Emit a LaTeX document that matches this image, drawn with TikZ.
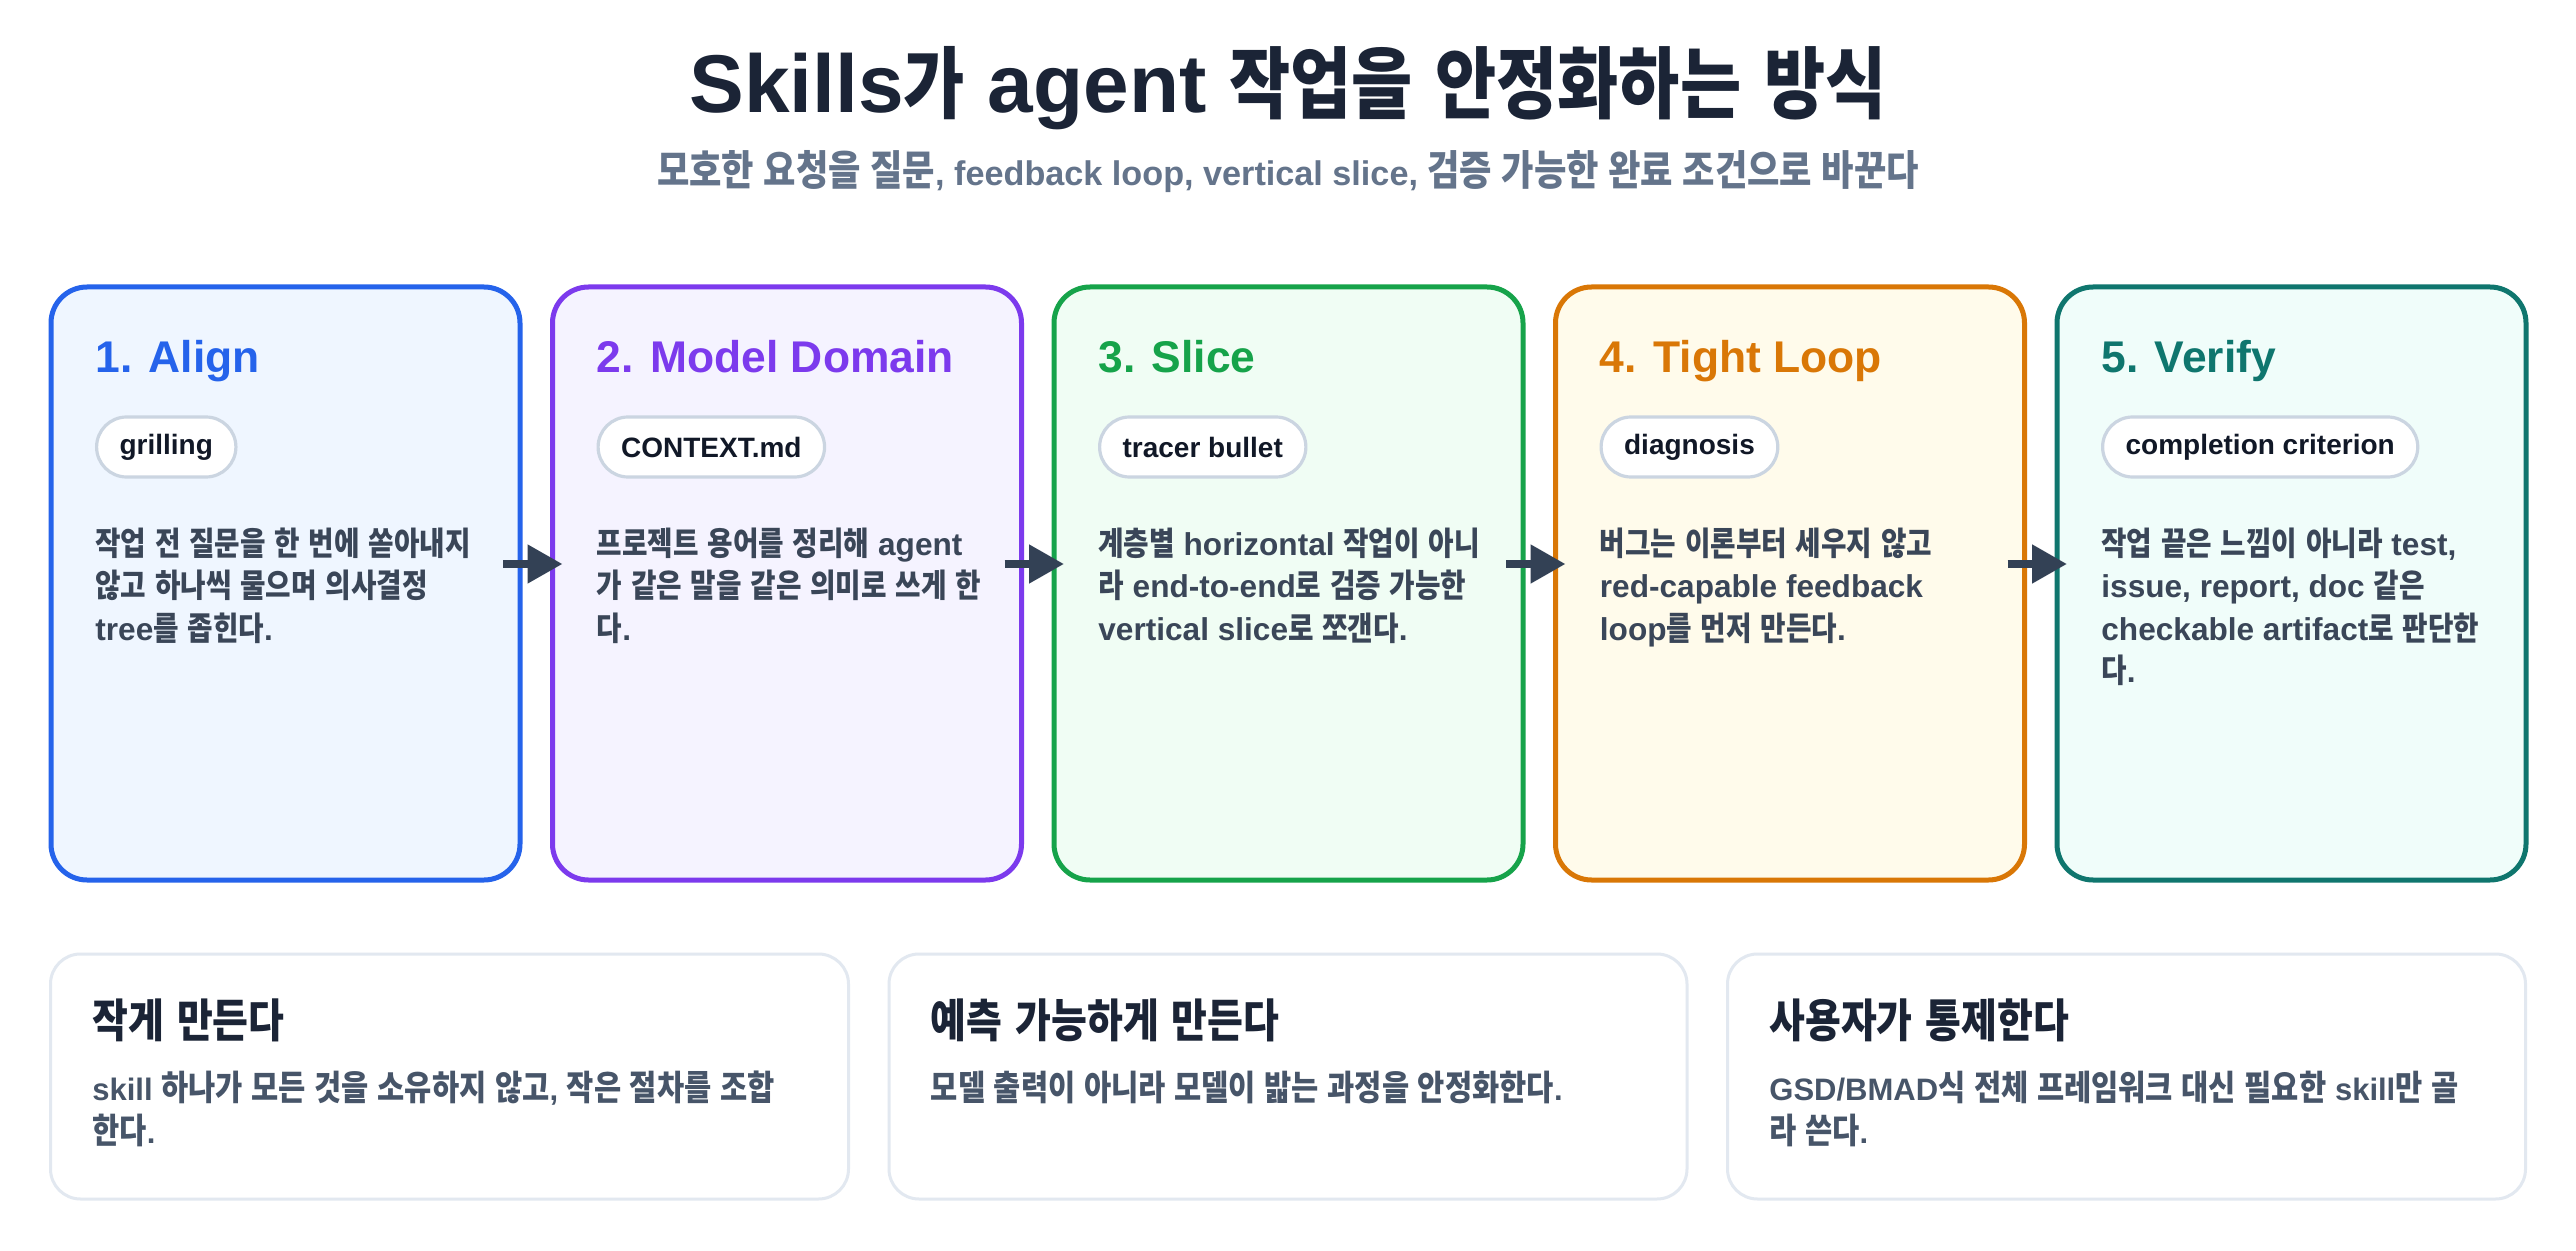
\documentclass[tikz,border=0pt]{standalone}
\usepackage{fontspec}
\usetikzlibrary{arrows.meta}
\setmainfont{Liberation Sans}
\newfontfamily\krfont{Noto Sans CJK KR}[FakeStretch=0.85]
\newcommand\krsz{16}
\XeTeXinterchartokenstate=1
\newXeTeXintercharclass\KRclass
\count255="AC00
\loop
  \XeTeXcharclass\count255=\KRclass
  \ifnum\count255<"D7A3 \advance\count255 by 1
\repeat
\XeTeXinterchartoks 0 \KRclass = {\begingroup\krfont\fontsize{\krsz}{\baselineskip}\selectfont}
\XeTeXinterchartoks 4095 \KRclass = {\begingroup\krfont\fontsize{\krsz}{\baselineskip}\selectfont}
\XeTeXinterchartoks \KRclass 0 = {\endgroup}
\XeTeXinterchartoks \KRclass 4095 = {\endgroup}

\definecolor{ttl}{HTML}{1B2436}
\definecolor{subc}{HTML}{64748B}
\definecolor{bodyc}{HTML}{3A4658}
\definecolor{botbody}{HTML}{475569}
\definecolor{pillb}{HTML}{CBD5E1}
\definecolor{pillt}{HTML}{111827}
\definecolor{arrowc}{HTML}{334155}
\definecolor{botb}{HTML}{E2E8F0}
\definecolor{blueb}{HTML}{2563EB}\definecolor{bluef}{HTML}{EFF6FF}
\definecolor{purpb}{HTML}{7C3AED}\definecolor{purpf}{HTML}{F5F3FF}
\definecolor{greenb}{HTML}{16A34A}\definecolor{greenf}{HTML}{F0FDF4}
\definecolor{orangeb}{HTML}{D97706}\definecolor{orangef}{HTML}{FFFBEB}
\definecolor{tealb}{HTML}{0F766E}\definecolor{tealf}{HTML}{F0FDFA}

\newcommand\cardtext[1]{\parbox[t]{260pt}{\raggedright #1}}
\newcommand\bottext[1]{\parbox[t]{390pt}{\raggedright #1}}

\tikzset{
  card/.style={line width=2.5pt, rounded corners=18pt, inner sep=0pt, outer sep=0pt,
    minimum width=234.5pt, minimum height=296.5pt, anchor=north west},
  ctitle/.style={anchor=base west, inner sep=0pt, font=\bfseries\fontsize{22.2}{26}\selectfont\def\krsz{22}},
  pill/.style={draw=pillb, fill=white, line width=1.6pt, rounded corners=15pt,
    minimum height=30pt, inner xsep=11.5pt, inner ysep=0pt, anchor=west,
    text=pillt, font=\bfseries\fontsize{14}{16}\selectfont\def\krsz{14}},
  cbody/.style={anchor=base west, inner sep=0pt, text=bodyc,
    font=\bfseries\fontsize{15.8}{21.25}\selectfont\def\krsz{16.3}},
  arr/.style={draw=arrowc, line width=4pt, -{Triangle[length=17.5pt,width=18.5pt]}},
  botcard/.style={draw=botb, fill=white, line width=1.5pt, rounded corners=15pt,
    inner sep=0pt, outer sep=0pt, minimum width=399pt, minimum height=122.5pt, anchor=north west},
  btitle/.style={anchor=base west, inner sep=0pt, text=ttl,
    font=\bfseries\fontsize{23.5}{28}\selectfont\def\krsz{22.9}},
  bbody/.style={anchor=base west, inner sep=0pt, text=botbody,
    font=\bfseries\fontsize{15.5}{21.5}\selectfont\def\krsz{17.4}},
}

\begin{document}
\begin{tikzpicture}[x=0.5pt,y=-0.5pt]
\fill[white] (0,0) rectangle (2576,1251);
\useasboundingbox (0,0) rectangle (2576,1251);

% header
\node[anchor=base, inner sep=0pt, text=ttl, font=\bfseries\fontsize{41}{48}\selectfont\def\krsz{39.1}]
  (title) at (1288,113) {Skills가 agent 작업을 안정화하는 방식};
\node[anchor=base, inner sep=0pt, text=subc, font=\bfseries\fontsize{17.1}{23}\selectfont\def\krsz{20.7}]
  (subtitle) at (1288,186) {모호한 요청을 질문, feedback loop, vertical slice, 검증 가능한 완료 조건으로 바꾼다};

% step cards
\node[card, draw=blueb, fill=bluef] (c1) at (51,287) {};
\node[card, draw=purpb, fill=purpf] (c2) at (552.5,287) {};
\node[card, draw=greenb, fill=greenf] (c3) at (1054,287) {};
\node[card, draw=orangeb, fill=orangef] (c4) at (1555.5,287) {};
\node[card, draw=tealb, fill=tealf] (c5) at (2057,287) {};

\node[ctitle, text=blueb] (t1) at (95,373) {1. Align};
\node[ctitle, text=purpb] (t2) at (596.5,373) {2. Model Domain};
\node[ctitle, text=greenb] (t3) at (1098,373) {3. Slice};
\node[ctitle, text=orangeb] (t4) at (1599.5,373) {4. Tight Loop};
\node[ctitle, text=tealb] (t5) at (2101,373) {5. Verify};

\node[pill] (p1) at (95,447) {grilling};
\node[pill] (p2) at (596.5,447) {CONTEXT.md};
\node[pill] (p3) at (1098,447) {tracer bullet};
\node[pill] (p4) at (1599.5,447) {diagnosis};
\node[pill] (p5) at (2101,447) {completion criterion};

\node[cbody] (b1) at (95,555) {\cardtext{작업 전 질문을 한 번에 쏟아내지\\않고 하나씩 물으며 의사결정\\tree를 좁힌다.}};
\node[cbody] (b2) at (596.5,555) {\cardtext{프로젝트 용어를 정리해 agent\\가 같은 말을 같은 의미로 쓰게 한\\다.}};
\node[cbody] (b3) at (1098,555) {\cardtext{계층별 horizontal 작업이 아니\\라 end-to-end로 검증 가능한\\vertical slice로 쪼갠다.}};
\node[cbody] (b4) at (1599.5,555) {\cardtext{버그는 이론부터 세우지 않고\\red-capable feedback\\loop를 먼저 만든다.}};
\node[cbody] (b5) at (2101,555) {\cardtext{작업 끝은 느낌이 아니라 test,\\issue, report, doc 같은\\checkable artifact로 판단한\\다.}};

% arrows
\draw[arr] ([xshift=-8.5pt,yshift=9.75pt]c1.east) -- ([xshift=5pt,yshift=9.75pt]c2.west);
\draw[arr] ([xshift=-8.5pt,yshift=9.75pt]c2.east) -- ([xshift=5pt,yshift=9.75pt]c3.west);
\draw[arr] ([xshift=-8.5pt,yshift=9.75pt]c3.east) -- ([xshift=5pt,yshift=9.75pt]c4.west);
\draw[arr] ([xshift=-8.5pt,yshift=9.75pt]c4.east) -- ([xshift=5pt,yshift=9.75pt]c5.west);

% bottom cards
\node[botcard] (d1) at (50.5,954) {};
\node[botcard] (d2) at (889,954) {};
\node[botcard] (d3) at (1727.5,954) {};

\node[btitle] (e1) at (92,1037) {작게 만든다};
\node[btitle] (e2) at (930.5,1037) {예측 가능하게 만든다};
\node[btitle] (e3) at (1769,1037) {사용자가 통제한다};

\node[bbody] (f1) at (92,1100) {\bottext{skill 하나가 모든 것을 소유하지 않고, 작은 절차를 조합\\한다.}};
\node[bbody] (f2) at (930.5,1100) {\bottext{모델 출력이 아니라 모델이 밟는 과정을 안정화한다.}};
\node[bbody] (f3) at (1769,1100) {\bottext{GSD/BMAD식 전체 프레임워크 대신 필요한 skill만 골\\라 쓴다.}};
\end{tikzpicture}
\end{document}
